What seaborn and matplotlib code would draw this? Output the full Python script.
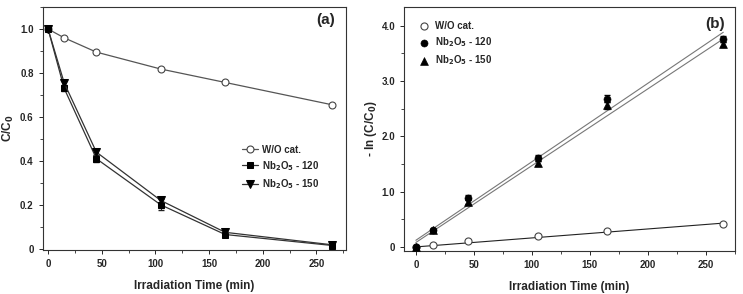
import numpy as np
import pandas as pd
import matplotlib
matplotlib.use("Agg")
import matplotlib.pyplot as plt
import seaborn as sns
from matplotlib.ticker import MultipleLocator, FixedLocator, FixedFormatter

# ---- data ----
time = [0, 15, 45, 105, 165, 265]
c_wo = [1.0, 0.96, 0.895, 0.818, 0.757, 0.655]
c_120 = [1.0, 0.73, 0.41, 0.20, 0.065, 0.015]
c_150 = [1.0, 0.755, 0.44, 0.22, 0.075, 0.018]
err_120 = [0.0, 0.012, 0.015, 0.025, 0.008, 0.004]
err_150 = [0.0, 0.010, 0.012, 0.012, 0.008, 0.004]

ln_wo = [0.0, 0.04, 0.11, 0.20, 0.28, 0.42]
ln_120 = [0.0, 0.31, 0.89, 1.61, 2.68, 3.76]
ln_150 = [0.0, 0.31, 0.82, 1.51, 2.56, 3.66]
ln_err120 = [0.0, 0.02, 0.05, 0.05, 0.06, 0.05]
ln_err150 = [0.0, 0.02, 0.05, 0.05, 0.06, 0.05]

fit_t = [0, 265]
fit_wo = [0.0, 0.43]
fit_120 = [0.12, 3.88]
fit_150 = [0.08, 3.76]

labels = ["W/O cat.", "Nb$_2$O$_5$ - 120", "Nb$_2$O$_5$ - 150"]

sns.set_style("ticks")
plt.rcParams['font.family'] = ['Liberation Sans', 'DejaVu Sans']
plt.rcParams['font.weight'] = 'bold'
plt.rcParams['axes.labelweight'] = 'bold'
plt.rcParams['mathtext.default'] = 'bf'

fig = plt.figure(figsize=(7.43, 2.94), dpi=100)
axa = fig.add_axes([0.0575, 0.150, 0.408, 0.826])
axb = fig.add_axes([0.5441, 0.147, 0.445, 0.828])

lc = '#555555'
# ---- panel a ----
df_a = pd.DataFrame({"t": time, "wo": c_wo, "n120": c_120, "n150": c_150})
axa.errorbar(time, c_120, yerr=err_120, fmt='none', ecolor='#222222', elinewidth=0.8, capsize=2, zorder=2)
axa.errorbar(time, c_150, yerr=err_150, fmt='none', ecolor='#222222', elinewidth=0.8, capsize=2, zorder=2)
sns.lineplot(data=df_a, x="t", y="wo", ax=axa, color=lc, lw=0.9, marker='o', markersize=5,
             markerfacecolor='white', markeredgecolor='#444444', markeredgewidth=0.8, label=labels[0], zorder=3)
sns.lineplot(data=df_a, x="t", y="n120", ax=axa, color='#333333', lw=0.9, marker='s', markersize=5,
             markerfacecolor='black', markeredgecolor='black', label=labels[1], zorder=3)
sns.lineplot(data=df_a, x="t", y="n150", ax=axa, color='#333333', lw=0.9, marker='v', markersize=5.5,
             markerfacecolor='black', markeredgecolor='black', label=labels[2], zorder=3)
axa.set_xlim(-5, 277.5)
axa.set_ylim(-0.005, 1.1)
axa.set_xlabel("Irradiation Time (min)", fontsize=8.5, labelpad=8)
axa.set_ylabel("C/C$_0$", fontsize=8.5, labelpad=3)
axa.yaxis.set_major_locator(FixedLocator([0, 0.2, 0.4, 0.6, 0.8, 1.0]))
axa.yaxis.set_major_formatter(FixedFormatter(["0", "0.2", "0.4", "0.6", "0.8", "1.0"]))
axa.yaxis.set_minor_locator(MultipleLocator(0.1))
axa.xaxis.set_major_locator(MultipleLocator(50))
axa.xaxis.set_minor_locator(MultipleLocator(25))
axa.text(0.965, 0.945, "(a)", transform=axa.transAxes, ha='right', va='center', fontsize=11, fontweight='bold')
leg = axa.legend(loc='upper left', bbox_to_anchor=(0.63, 0.47), frameon=False, fontsize=7,
                 handlelength=1.6, labelspacing=0.45, handletextpad=0.4)

# ---- panel b ----
df_b = pd.DataFrame({"t": time, "wo": ln_wo, "n120": ln_120, "n150": ln_150})
df_fit = pd.DataFrame({"t": fit_t, "wo": fit_wo, "n120": fit_120, "n150": fit_150})
sns.lineplot(data=df_fit, x="t", y="wo", ax=axb, color='#222222', lw=0.8, zorder=1)
sns.lineplot(data=df_fit, x="t", y="n120", ax=axb, color='#777777', lw=0.8, zorder=1)
sns.lineplot(data=df_fit, x="t", y="n150", ax=axb, color='#777777', lw=0.8, zorder=1)
axb.errorbar(time, ln_120, yerr=ln_err120, fmt='none', ecolor='black', elinewidth=0.8, capsize=2, zorder=2)
axb.errorbar(time, ln_150, yerr=ln_err150, fmt='none', ecolor='black', elinewidth=0.8, capsize=2, zorder=2)
sns.scatterplot(data=df_b, x="t", y="wo", ax=axb, marker='o', s=26, facecolor='white',
                edgecolor='#444444', linewidth=0.8, label=labels[0], zorder=3)
sns.scatterplot(data=df_b, x="t", y="n120", ax=axb, marker='o', s=26, color='black',
                edgecolor='black', label=labels[1], zorder=3)
sns.scatterplot(data=df_b, x="t", y="n150", ax=axb, marker='^', s=32, color='black',
                edgecolor='black', label=labels[2], zorder=3)
axb.set_xlim(-10, 275)
axb.set_ylim(-0.07, 4.33)
axb.set_xlabel("Irradiation Time (min)", fontsize=8.5, labelpad=8)
axb.set_ylabel("- ln (C/C$_0$)", fontsize=8.5, labelpad=2)
axb.yaxis.set_major_locator(FixedLocator([0, 1, 2, 3, 4]))
axb.yaxis.set_major_formatter(FixedFormatter(["0", "1.0", "2.0", "3.0", "4.0"]))
axb.yaxis.set_minor_locator(MultipleLocator(0.5))
axb.xaxis.set_major_locator(MultipleLocator(50))
axb.xaxis.set_minor_locator(MultipleLocator(25))
axb.text(0.97, 0.93, "(b)", transform=axb.transAxes, ha='right', va='center', fontsize=11, fontweight='bold')
axb.legend(loc='upper left', bbox_to_anchor=(0.02, 0.98), frameon=False, fontsize=7,
           handlelength=1.0, labelspacing=0.45, handletextpad=0.6)

for ax in (axa, axb):
    for s in ax.spines.values():
        s.set_visible(True)
        s.set_linewidth(0.8)
        s.set_color('#333333')
    ax.tick_params(which='major', length=3, width=0.7, labelsize=7, direction='out')
    ax.tick_params(which='minor', length=2, width=0.6, direction='out')
    for lab in ax.get_xticklabels() + ax.get_yticklabels():
        lab.set_fontweight('bold')

fig.savefig("out.png", dpi=100)
